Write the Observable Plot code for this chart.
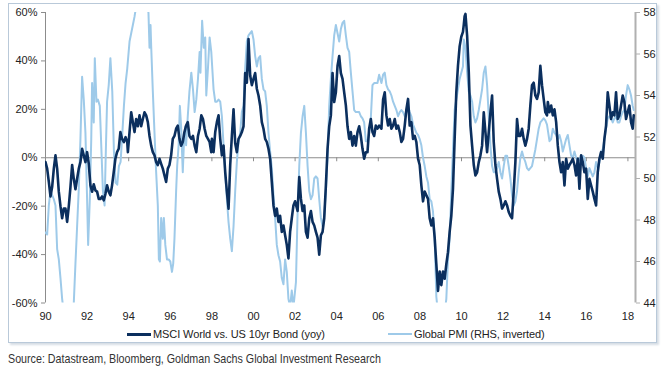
<!DOCTYPE html>
<html>
<head>
<meta charset="utf-8">
<script src="https://cdn.jsdelivr.net/npm/d3@7"></script>
<script src="https://cdn.jsdelivr.net/npm/@observablehq/plot@0.6"></script>
<style>
  html, body { margin: 0; padding: 0; background: #fff; }
  #wrap { position: relative; width: 666px; height: 369px; overflow: hidden; font-family: "Liberation Sans", Arial, sans-serif; }
  #frame { position: absolute; left: 8px; top: 3px; width: 647px; height: 338px; border: 1px solid #b9c9d9; box-shadow: 2px 2px 2px #d6dde5; }
  #chart { position: absolute; left: 0; top: 0; }
  .leg { position: absolute; top: 326px; height: 16px; display: flex; align-items: center; font-size: 11px; color: #222; white-space: nowrap; letter-spacing: -0.1px; }
  .leg .sw { display: inline-block; width: 24px; margin-right: 2px; }
  #source { position: absolute; left: 8px; top: 351px; font-family: "Liberation Sans", Arial, sans-serif; font-size: 13px; color: #333; white-space: nowrap; transform: scaleX(0.823); transform-origin: 0 50%; }
</style>
</head>
<body>
<div id="wrap">
  <div id="frame"></div>
  <div id="chart"></div>
  <div class="leg" style="left:127px"><span class="sw" style="border-top:3px solid #0b2f5e"></span>MSCI World vs. US 10yr Bond (yoy)</div>
  <div class="leg" style="left:388px"><span class="sw" style="border-top:2px solid #9ecae9"></span>Global PMI (RHS, inverted)</div>
  <div id="source">Source: Datastream, Bloomberg, Goldman Sachs Global Investment Research</div>
</div>
<script>
// ---- data (decimal year, value) ----
const seriesNames = ["MSCI World vs. US 10yr Bond (yoy)", "Global PMI (RHS, inverted)"];
const yearTicks = [1990,1992,1994,1996,1998,2000,2002,2004,2006,2008,2010,2012,2014,2016,2018];
const yearTickLabels = ["90","92","94","96","98","00","02","04","06","08","10","12","14","16","18"];
const pctTicks = [-60,-40,-20,0,20,40,60];
const pmiTicks = [44,46,48,50,52,54,56,58];

// MSCI World vs US 10yr bond, yoy %, left axis
const msci = [
[1990.00,-1.8],[1990.08,-4.5],[1990.16,-10],[1990.24,-16],[1990.32,-12],[1990.40,-4.5],[1990.48,1],[1990.56,-4.5],[1990.64,-14],[1990.72,-20],[1990.80,-25],[1990.88,-21],[1990.96,-21],[1991.04,-26.5],[1991.12,-20],[1991.20,-12],[1991.28,-3],[1991.36,-8.7],[1991.44,-13],[1991.52,-8.7],[1991.60,-4.5],[1991.68,-1.8],[1991.76,3.7],[1991.84,1],[1991.92,-1.8],[1992.00,2.3],[1992.08,-2.5],[1992.16,-11.4],[1992.24,-14],[1992.32,-11],[1992.40,-13.5],[1992.48,-14],[1992.56,-17],[1992.64,-17],[1992.72,-16],[1992.80,-17.6],[1992.88,-15],[1992.96,-11.4],[1993.04,-14],[1993.12,-15.5],[1993.20,-11.4],[1993.28,-6],[1993.36,-0.4],[1993.44,2.3],[1993.52,3.7],[1993.60,10.6],[1993.68,7.8],[1993.77,6.5],[1993.85,8.5],[1993.93,6.5],[1993.96,2.3],
[1994.04,10.6],[1994.12,18.8],[1994.20,14.7],[1994.28,10.6],[1994.36,16],[1994.44,13],[1994.52,17.5],[1994.60,13],[1994.68,16],[1994.76,18.8],[1994.84,17.5],[1994.92,14.7],[1995.00,9],[1995.08,5],[1995.16,2.3],[1995.24,1],[1995.32,-1.8],[1995.40,-3],[1995.48,-0.4],[1995.56,-2.5],[1995.64,-4.5],[1995.72,-7.3],[1995.80,-10],[1995.88,-4.5],[1995.96,-3],[1996.04,1],[1996.12,7.8],[1996.20,9],[1996.28,12],[1996.36,13.3],[1996.44,7.8],[1996.52,5],[1996.60,6.5],[1996.68,10.6],[1996.76,13.3],[1996.84,14.7],[1996.92,9],[1997.01,7.8],[1997.09,9],[1997.17,5],[1997.25,2.3],[1997.33,9],[1997.41,12],[1997.49,17.5],[1997.57,16],[1997.65,12],[1997.73,9],[1997.81,7.8],[1997.89,6.5],[1997.97,2.3],
[1998.00,7.8],[1998.08,2.3],[1998.16,10.6],[1998.24,14.7],[1998.32,17.5],[1998.40,7.8],[1998.48,1],[1998.56,5],[1998.64,-6],[1998.72,-14],[1998.80,-21],[1998.88,-3],[1998.96,9],[1999.04,20],[1999.12,6],[1999.20,2.3],[1999.28,7.8],[1999.36,9],[1999.44,10.6],[1999.52,13],[1999.60,35],[1999.68,31],[1999.76,49],[1999.84,34],[1999.92,30],[2000.00,32.6],[2000.08,35],[2000.16,28.5],[2000.24,25.7],[2000.32,21.6],[2000.40,14.7],[2000.48,12],[2000.56,7.8],[2000.64,6.5],[2000.72,3.7],[2000.80,-0.4],[2000.88,-10],[2000.96,-19.7],[2001.04,-24],[2001.12,-21],[2001.20,-26.5],[2001.28,-24],[2001.36,-30.6],[2001.44,-28],[2001.52,-32],[2001.60,-36],[2001.68,-41.6],[2001.76,-30.6],[2001.84,-25],[2001.92,-19.7],[2002.00,-18],
[2002.12,-22],[2002.20,-8],[2002.28,-17],[2002.36,-22],[2002.44,-19.7],[2002.52,-30.6],[2002.60,-33],[2002.68,-25],[2002.76,-22],[2002.84,-26.5],[2002.92,-28],[2003.00,-30.6],[2003.08,-33],[2003.16,-40],[2003.24,-32],[2003.32,-30.6],[2003.40,-25],[2003.48,-11.4],[2003.56,3.7],[2003.64,13],[2003.72,17.5],[2003.80,35],[2003.88,23],[2003.96,27],[2004.04,38],[2004.12,42],[2004.20,35],[2004.28,32.6],[2004.36,27],[2004.44,21.6],[2004.52,13],[2004.60,7.8],[2004.68,10.6],[2004.76,5],[2004.84,9],[2004.92,5],[2005.00,10.6],[2005.08,13],[2005.16,9],[2005.24,3.7],[2005.32,-0.4],[2005.40,2.3],[2005.48,2.3],[2005.56,12],[2005.64,16],[2005.72,10.6],[2005.80,9],[2005.88,13.3],[2005.96,12],[2006.04,13.3],
[2006.15,12],[2006.23,24],[2006.31,27],[2006.39,17.5],[2006.47,13.3],[2006.55,16],[2006.63,12],[2006.71,13.3],[2006.79,16],[2006.87,12],[2006.95,13.3],[2007.03,10.6],[2007.11,6.5],[2007.19,7.8],[2007.27,13.3],[2007.35,20],[2007.43,24.3],[2007.51,13.3],[2007.59,14.7],[2007.67,7.8],[2007.75,9],[2007.83,6.5],[2007.91,-0.4],[2007.99,-3],[2008.07,-11.4],[2008.15,-18],[2008.23,-14],[2008.31,-15.5],[2008.39,-17],[2008.47,-25],[2008.55,-28],[2008.63,-25],[2008.71,-33],[2008.79,-44],[2008.87,-55],[2008.95,-47],[2009.03,-52.6],[2009.11,-47],[2009.19,-50],[2009.27,-44],[2009.35,-39],[2009.43,-30.6],[2009.51,-24],[2009.59,-12.8],[2009.67,7.8],[2009.75,27],[2009.83,38],[2009.91,46],[2009.99,50],[2010.07,52],
[2010.11,55],[2010.15,58.5],[2010.19,59.4],[2010.27,50.4],[2010.35,35.3],[2010.43,13.3],[2010.51,5],[2010.59,-3],[2010.67,-7.3],[2010.75,-6],[2010.83,-1.8],[2010.91,1],[2010.99,5],[2011.07,18.8],[2011.15,10.6],[2011.23,2.3],[2011.31,10.6],[2011.39,18.8],[2011.47,25.7],[2011.55,6.5],[2011.63,-3],[2011.71,-8.7],[2011.79,-14],[2011.87,-17],[2011.95,-21],[2012.03,-19.7],[2012.11,-18],[2012.19,-19.7],[2012.27,-22.4],[2012.35,-24],[2012.43,-25],[2012.51,-14],[2012.59,-1.8],[2012.67,16],[2012.75,9],[2012.83,9],[2012.91,12],[2012.99,7.8],[2013.07,5],[2013.15,7.8],[2013.23,12],[2013.31,21.6],[2013.39,30],[2013.47,31],[2013.55,25.7],[2013.63,24.3],[2013.71,27],[2013.79,38],[2013.87,30],[2013.95,24.3],[2014.03,18.8],[2014.11,17.5],
[2014.15,23],[2014.23,18.8],[2014.31,21.6],[2014.39,17.5],[2014.47,20],[2014.55,14.7],[2014.63,5],[2014.71,-1.8],[2014.79,-6],[2014.87,-1.8],[2014.95,-11.4],[2015.03,-0.4],[2015.11,-4.5],[2015.19,-3],[2015.27,-1.8],[2015.35,-0.4],[2015.43,-3],[2015.51,-7.3],[2015.59,-0.4],[2015.67,-12.8],[2015.75,1],[2015.83,-1.8],[2015.91,-6],[2015.99,-4.5],[2016.07,-17],[2016.15,-8.7],[2016.23,-11.4],[2016.31,-14],[2016.39,-17],[2016.47,-19.7],[2016.55,-6],[2016.63,-0.4],[2016.71,2.3],[2016.79,-0.4],[2016.87,7.8],[2016.95,13.3],[2017.03,27],[2017.11,21.6],[2017.19,16],[2017.27,18.8],[2017.35,17.5],[2017.43,27],[2017.51,16],[2017.59,17.5],[2017.67,21.6],[2017.75,25.7],[2017.83,23],[2017.91,16],[2017.99,18.8],[2018.07,21.6],[2018.15,14.7],[2018.23,12],[2018.28,17.5]
];

// Global PMI, right axis
const pmi = [
[1990.00,47.4],[1990.08,47.3],[1990.16,48.7],[1990.24,49.4],[1990.32,49.2],[1990.40,49.0],[1990.48,48.7],[1990.56,46.6],[1990.64,46.1],[1990.72,45.2],[1990.80,44.2],[1990.88,43.5],[1991.04,43.0],[1991.20,43.3],[1991.36,44.0],[1991.44,45.9],[1991.52,47.7],[1991.60,49.5],[1991.68,51.9],[1991.76,54.9],[1991.84,53.8],[1991.92,52.2],[1992.00,49.0],[1992.05,46.8],[1992.13,49.0],[1992.20,51.9],[1992.24,54.6],[1992.29,53.5],[1992.32,52.7],[1992.37,55.8],[1992.45,53.7],[1992.52,53.8],[1992.61,53.5],[1992.68,51.6],[1992.76,49.4],[1992.84,48.7],[1992.90,51.3],[1992.96,53.7],[1993.04,54.5],[1993.12,55.8],[1993.21,54.2],[1993.29,51.3],[1993.37,49.8],[1993.45,49.7],[1993.53,50.6],[1993.61,50.8],[1993.69,52.1],[1993.77,53.5],[1993.85,54.6],[1993.93,55.3],
[1994.04,56.6],[1994.12,57.0],[1994.20,57.4],[1994.28,57.8],[1994.36,58.3],[1994.60,58.8],[1994.84,58.3],[1994.95,58.0],[1995.00,56.3],[1995.05,57.4],[1995.08,56.4],[1995.16,54.2],[1995.24,52.2],[1995.32,50.3],[1995.40,48.7],[1995.45,46.1],[1995.50,46.0],[1995.56,48.1],[1995.64,47.1],[1995.69,48.1],[1995.76,46.8],[1995.84,46.1],[1995.92,46.1],[1996.00,46.0],[1996.08,45.5],[1996.14,45.9],[1996.20,47.1],[1996.28,49.4],[1996.33,50.6],[1996.40,51.6],[1996.46,53.5],[1996.52,52.5],[1996.60,50.3],[1996.65,51.6],[1996.72,52.5],[1996.76,51.6],[1996.84,53.0],[1996.92,54.2],[1997.01,55.1],[1997.09,54.3],[1997.17,53.2],[1997.25,53.8],[1997.33,54.8],[1997.41,56.1],[1997.45,55.1],[1997.53,57.6],[1997.61,56.3],[1997.68,56.8],[1997.73,54.0],[1997.81,55.3],[1997.89,56.8],[1997.97,56.1],
[1998.08,54.3],[1998.16,53.7],[1998.24,53.7],[1998.32,53.8],[1998.40,53.7],[1998.48,53.0],[1998.56,51.6],[1998.64,50.3],[1998.72,49.0],[1998.80,47.9],[1998.88,47.1],[1998.96,46.5],[1999.04,47.7],[1999.12,49.4],[1999.20,50.8],[1999.28,51.8],[1999.36,52.2],[1999.44,53.2],[1999.52,53.5],[1999.60,55.3],[1999.68,56.6],[1999.76,56.9],[1999.84,57.0],[1999.92,57.1],[2000.00,56.7],[2000.08,55.9],[2000.16,55.4],[2000.24,55.8],[2000.32,55.9],[2000.40,54.8],[2000.48,54.3],[2000.56,54.2],[2000.64,53.5],[2000.72,52.2],[2000.80,51.3],[2000.88,50.5],[2000.96,49.2],[2001.04,48.1],[2001.12,46.8],[2001.20,46.3],[2001.28,46.0],[2001.36,45.2],[2001.44,44.9],[2001.52,46.1],[2001.60,45.5],[2001.68,44.2],[2001.76,43.8],[2001.84,44.6],[2001.92,43.8],
[2002.04,45.0],[2002.12,48.4],[2002.20,50.6],[2002.28,52.2],[2002.36,53.0],[2002.44,53.5],[2002.52,52.2],[2002.60,50.6],[2002.68,49.4],[2002.76,49.0],[2002.84,49.2],[2002.92,50.0],[2003.00,50.1],[2003.08,50.0],[2003.16,49.0],[2003.24,48.1],[2003.32,47.7],[2003.40,48.2],[2003.48,49.4],[2003.56,51.1],[2003.64,53.5],[2003.72,54.8],[2003.80,55.9],[2003.88,56.9],[2003.96,57.4],[2004.04,57.0],[2004.12,56.6],[2004.20,57.2],[2004.28,57.5],[2004.36,57.6],[2004.44,56.9],[2004.52,56.3],[2004.60,56.1],[2004.68,55.1],[2004.76,54.2],[2004.84,53.3],[2004.92,53.2],[2005.00,53.2],[2005.08,53.2],[2005.16,53.0],[2005.24,52.9],[2005.32,52.7],[2005.40,51.8],[2005.48,51.8],[2005.56,52.2],[2005.64,52.9],[2005.72,54.5],[2005.80,54.6],[2005.88,54.6],[2005.96,54.6],[2006.04,55.0],
[2006.15,54.6],[2006.23,55.0],[2006.31,55.1],[2006.39,54.5],[2006.47,54.3],[2006.55,54.2],[2006.63,54.0],[2006.71,53.7],[2006.79,53.5],[2006.87,53.3],[2006.95,53.0],[2007.03,53.2],[2007.11,53.3],[2007.19,53.2],[2007.27,53.0],[2007.35,53.2],[2007.43,53.5],[2007.51,53.2],[2007.59,53.0],[2007.67,52.6],[2007.75,52.4],[2007.83,52.2],[2007.91,52.1],[2007.99,51.9],[2008.07,51.6],[2008.15,51.0],[2008.23,50.6],[2008.31,50.1],[2008.39,49.8],[2008.47,49.0],[2008.55,48.9],[2008.63,48.4],[2008.71,47.1],[2008.79,44.3],[2008.87,43.5],[2009.03,43.0],[2009.19,43.5],[2009.27,44.2],[2009.35,46.1],[2009.43,47.1],[2009.51,49.4],[2009.59,51.4],[2009.67,53.3],[2009.75,53.8],[2009.83,54.3],[2009.91,54.8],[2009.99,55.1],[2010.07,55.4],
[2010.11,56.7],[2010.19,56.3],[2010.27,55.1],[2010.35,54.2],[2010.43,54.0],[2010.51,53.7],[2010.59,53.0],[2010.67,52.7],[2010.75,52.9],[2010.83,53.3],[2010.91,53.8],[2010.99,54.3],[2011.07,55.1],[2011.15,55.4],[2011.23,54.5],[2011.31,53.0],[2011.39,51.6],[2011.47,50.6],[2011.55,50.3],[2011.63,50.3],[2011.71,50.5],[2011.79,50.8],[2011.87,50.3],[2011.95,50.0],[2012.03,50.6],[2012.11,51.1],[2012.19,51.1],[2012.27,50.6],[2012.35,50.0],[2012.43,49.2],[2012.51,48.7],[2012.59,48.9],[2012.67,49.4],[2012.75,50.3],[2012.83,51.0],[2012.91,51.3],[2012.99,51.0],[2013.07,50.8],[2013.15,50.5],[2013.23,50.4],[2013.31,50.5],[2013.39,50.6],[2013.47,51.0],[2013.55,51.4],[2013.63,51.9],[2013.71,52.4],[2013.79,52.7],[2013.87,52.8],[2013.95,52.9],[2014.03,52.8],[2014.11,52.6],
[2014.23,51.8],[2014.31,51.9],[2014.39,52.4],[2014.47,52.2],[2014.55,52.1],[2014.63,51.9],[2014.71,52.1],[2014.79,51.8],[2014.87,51.3],[2014.95,51.6],[2015.03,51.9],[2015.11,52.1],[2015.19,51.6],[2015.27,51.1],[2015.35,51.0],[2015.43,51.3],[2015.51,51.0],[2015.59,50.8],[2015.67,51.0],[2015.75,50.8],[2015.83,51.1],[2015.91,51.0],[2015.99,50.5],[2016.07,50.1],[2016.15,50.5],[2016.23,50.3],[2016.31,50.1],[2016.39,50.3],[2016.47,50.8],[2016.55,50.5],[2016.63,50.8],[2016.71,51.3],[2016.79,51.4],[2016.87,51.9],[2016.95,52.4],[2017.03,52.9],[2017.11,53.0],[2017.19,52.9],[2017.27,52.7],[2017.35,52.9],[2017.43,53.0],[2017.51,52.7],[2017.59,52.7],[2017.67,53.0],[2017.75,53.2],[2017.83,53.3],[2017.91,54.0],[2017.99,54.5],[2018.07,54.3],[2018.15,54.0],[2018.23,53.5],[2018.28,53.3]
];

// ---- scales: left axis -60%..60%, right axis 44..58 share the same range ----
const pctDomain = [-60, 60];
const pmiDomain = [44, 58];
const pmiToPct = v => pctDomain[0] + (v - pmiDomain[0]) * (pctDomain[1] - pctDomain[0]) / (pmiDomain[1] - pmiDomain[0]);
const pctToPmi = p => pmiDomain[0] + (p - pctDomain[0]) * (pmiDomain[1] - pmiDomain[0]) / (pctDomain[1] - pctDomain[0]);
const xDomain = [1990, 2018.365];

const W = 666, H = 345, mT = 12, mB = 42.5;
const zeroTick = 4 * (pctDomain[1] - pctDomain[0]) / (H - mT - mB); // 4px tick below zero line, in data units

const dark = "#0b2f5e";
const light = "#9ecae9";
const axisGray = "#8c8c8c";

const chart = Plot.plot({
  width: W,
  height: H,
  marginLeft: 45,
  marginRight: 31,
  marginTop: mT,
  marginBottom: mB,
  style: { fontFamily: "'Liberation Sans', Arial, sans-serif", fontSize: "11px", color: "#222", background: "transparent" },
  x: { domain: xDomain, axis: null },
  y: { domain: pctDomain, axis: null },
  marks: [
    // zero line (x axis) with small ticks
    Plot.ruleY([0], { stroke: axisGray, strokeWidth: 1 }),
    Plot.ruleX(yearTicks, { x: d => d, y1: 0, y2: -zeroTick, stroke: axisGray, strokeWidth: 1 }),
    Plot.axisX(yearTicks, { anchor: "bottom", tickSize: 0, tickPadding: 9, tickFormat: d => yearTickLabels[yearTicks.indexOf(d)], fill: "#222", label: null }),
    // left axis
    Plot.ruleX([xDomain[0]], { stroke: axisGray, strokeWidth: 1 }),
    Plot.axisY(pctTicks, { anchor: "left", tickSize: 4, tickPadding: 4, stroke: axisGray, fill: "#222", tickFormat: d => `${d}%`, label: null }),
    // right axis
    Plot.ruleX([xDomain[1]], { stroke: "#b0b0b0", strokeWidth: 2 }),
    Plot.axisY(pmiTicks.map(pmiToPct), { anchor: "right", tickSize: 4, tickPadding: 4, stroke: "#b0b0b0", fill: "#222", tickFormat: d => String(Math.round(pctToPmi(d))), label: null }),
    // series
    Plot.line(pmi, { x: d => d[0], y: d => pmiToPct(d[1]), stroke: light, strokeWidth: 2, clip: true }),
    Plot.line(msci, { x: d => d[0], y: d => d[1], stroke: dark, strokeWidth: 2.6, clip: true })
  ]
});
document.getElementById("chart").appendChild(chart);
</script>
</body>
</html>
